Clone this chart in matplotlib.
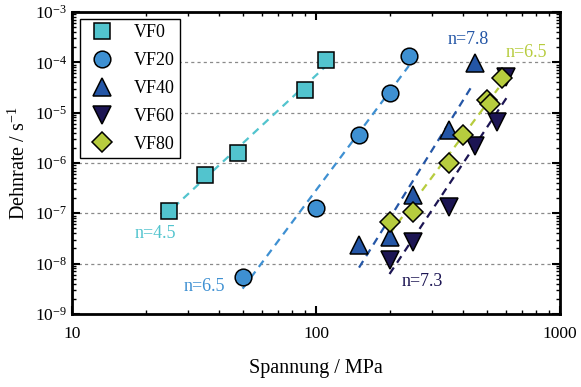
import numpy as np
import matplotlib
matplotlib.use("Agg")
import matplotlib.pyplot as plt
from matplotlib.ticker import LogLocator, FuncFormatter, NullFormatter

plt.rcParams['font.family'] = ['Liberation Serif', 'DejaVu Serif']
plt.rcParams['mathtext.fontset'] = 'custom'
plt.rcParams['mathtext.rm'] = 'Liberation Serif'
plt.rcParams['mathtext.it'] = 'Liberation Serif:italic'

# Creep data: stress (MPa) and strain rate (1/s) per fibre volume fraction
vf0_stress = [25, 35, 48, 90, 110]
vf0_rate = [1.1e-7, 5.8e-7, 1.6e-6, 2.8e-5, 1.1e-4]

vf20_stress = [50, 100, 150, 200, 240]
vf20_rate = [5.4e-9, 1.25e-7, 3.6e-6, 2.45e-5, 1.35e-4]

vf40_stress = [150, 200, 250, 350, 450]
vf40_rate = [2.35e-8, 3.4e-8, 2.3e-7, 4.5e-6, 9.5e-5]

vf60_stress = [200, 250, 350, 450, 550, 600]
vf60_rate = [1.2e-8, 2.7e-8, 1.35e-7, 2.2e-6, 6.5e-6, 5.0e-5]

vf80_stress = [200, 250, 350, 400, 500, 515, 580]
vf80_rate = [6.7e-8, 1.05e-7, 1.0e-6, 3.6e-6, 1.8e-5, 1.5e-5, 4.9e-5]

# Norton exponents and stress range of each fit line
n_values = [4.5, 6.5, 7.8, 7.3, 6.5]
fit_ranges = [(26, 108), (50, 240), (150, 440), (200, 612), (200, 560)]

labels = ['VF0', 'VF20', 'VF40', 'VF60', 'VF80']
colors = ['#52C4CE', '#3E90D2', '#2456A6', '#1C1553', '#B7CC3E']
markers = ['s', 'o', '^', 'v', 'D']
sizes = [11, 12, 13, 13, 10]

stresses = [vf0_stress, vf20_stress, vf40_stress, vf60_stress, vf80_stress]
rates = [vf0_rate, vf20_rate, vf40_rate, vf60_rate, vf80_rate]

# positions of the n= annotations (stress, rate)
n_label_pos = [(22, 4.0e-8), (35, 3.5e-9), (420, 2.8e-4), (272, 4.3e-9), (730, 1.6e-4)]

fig = plt.figure(figsize=(5.81, 3.87), dpi=100)
ax = fig.add_axes([0.124, 0.189, 0.840, 0.780])

for s, r, n, (lo, hi), c in zip(stresses, rates, n_values, fit_ranges, colors):
    # intercept of log(rate) = log(A) + n*log(stress) with fixed n
    log_a = np.mean(np.log10(r) - n * np.log10(s))
    xs = np.array([lo, hi], dtype=float)
    ax.plot(xs, 10 ** (log_a + n * np.log10(xs)), color=c, lw=1.6,
            dashes=(3.5, 2.6), zorder=2)

for s, r, lab, c, m, ms in zip(stresses, rates, labels, colors, markers, sizes):
    ax.plot(s, r, linestyle='none', marker=m, ms=ms, mfc=c, mec='black',
            mew=1.1, label=lab, zorder=3)

for (x, y), n, c in zip(n_label_pos, n_values, colors):
    ax.text(x, y, f"n={n}", color=c, fontsize=13, ha='center', va='center')

ax.set_xscale('log')
ax.set_yscale('log')
ax.set_xlim(10, 1000)
ax.set_ylim(1e-9, 1e-3)

ax.xaxis.set_major_formatter(FuncFormatter(lambda v, p: f"{v:.0f}"))
ax.xaxis.set_minor_formatter(NullFormatter())
ax.yaxis.set_major_locator(LogLocator(base=10, numticks=10))
ax.yaxis.set_minor_locator(LogLocator(base=10, subs=np.arange(2, 10), numticks=20))
ax.yaxis.set_minor_formatter(NullFormatter())

ax.grid(True, axis='y', which='major', color='#8a8a8a', lw=0.9, dashes=(2.5, 2.5))
ax.set_axisbelow(True)

for sp in ax.spines.values():
    sp.set_linewidth(2.0)
ax.tick_params(which='both', direction='in', top=True, right=True, labelsize=12.5)
ax.tick_params(which='major', length=6, width=1.5)
ax.tick_params(which='minor', length=3, width=1.0)
ax.tick_params(axis='x', pad=9)

ax.set_xlabel("Spannung / MPa", fontsize=14.5, labelpad=12)
ax.set_ylabel("Dehnrate / s$^{-1}$", fontsize=14.5, labelpad=4)

leg = ax.legend(loc='upper left', bbox_to_anchor=(0.016, 0.977), borderaxespad=0,
                fontsize=13, frameon=True, fancybox=False, edgecolor='black',
                framealpha=1, handletextpad=0.9, labelspacing=0.6,
                borderpad=0.3, handlelength=1.8)
leg.get_frame().set_linewidth(1.0)

fig.savefig("out.png", dpi=100)
